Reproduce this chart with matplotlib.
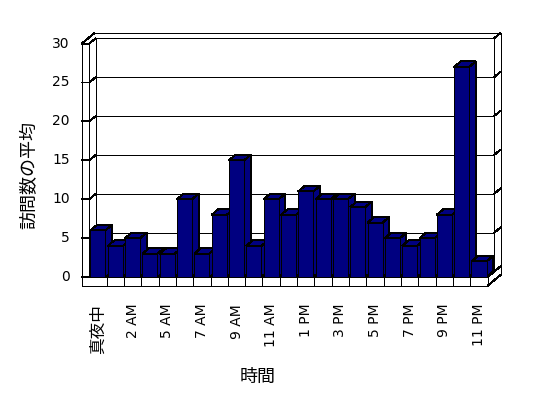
import matplotlib
matplotlib.use("Agg")
import matplotlib.pyplot as plt
from matplotlib.patches import Polygon

plt.rcParams['font.family'] = ['DejaVu Sans', 'Noto Sans CJK JP']
plt.rcParams['lines.antialiased'] = False
plt.rcParams['patch.antialiased'] = False

# data: average visits per hour (hour 4 is missing in the source)
hours = ['真夜中', '1 AM', '2 AM', '3 AM', '5 AM', '6 AM', '7 AM', '8 AM',
         '9 AM', '10 AM', '11 AM', '12 PM', '1 PM', '2 PM', '3 PM', '4 PM',
         '5 PM', '6 PM', '7 PM', '8 PM', '9 PM', '10 PM', '11 PM']
visits = [6, 4, 5, 3, 3, 10, 3, 8, 15, 4, 10, 8, 11, 10, 10, 9, 7, 5, 4, 5,
          8, 27, 2]
y_ticks = [0, 5, 10, 15, 20, 25, 30]

NAVY = '#000080'
LW = 0.72   # one pixel

# layout of the fake 3d box (category / value units)
n = len(hours)
hx, hy = 0.378, 0.70     # half depth (bars, back wall inner face)
fx, fy = 0.756, 1.39     # full depth (outer edges)
wall = 0.44              # left wall thickness
floor = 1.12             # floor thickness
bw = 0.87
top = y_ticks[-1]
left = -0.5
right = n - 0.5

fig = plt.figure(figsize=(5.48, 3.98), dpi=100)
ax = fig.add_axes([0, 0, 1, 1])
ax.set_xlim(-5.656, 25.984)
ax.set_ylim(-15.553, 35.604)
ax.axis('off')

lk = dict(color='black', lw=LW, solid_capstyle='butt', zorder=1)

# back wall: inner face + gridlines
ax.plot([left + hx, right + hx, right + hx, left + hx, left + hx],
        [hy, hy, top + hy, top + hy, hy], **lk)
for v in y_ticks[1:-1]:
    ax.plot([left + hx, right + hx], [v + hy, v + hy], **lk)
# gridline wraps onto left wall front strip and right wall edge
for v in y_ticks:
    ax.plot([left - wall, left, left + hx], [v, v, v + hy], **lk)
    ax.plot([right + hx, right + fx], [v + hy, v + fy], **lk)

# left wall edges
ax.plot([left - wall, left - wall], [-floor, top], **lk)
ax.plot([left, left], [0, top], **lk)
ax.plot([left - wall, left - wall + fx], [top, top + fy], **lk)
# back wall outer edges
ax.plot([left - wall + fx, right + fx, right + fx],
        [top + fy, top + fy, -floor + fy], **lk)

# floor
ax.plot([left - wall, right, right], [-floor, -floor, 0], **lk)
ax.plot([left, right], [0, 0], **lk)
for k in range(n - 1):
    ax.plot([k + 0.5, k + 0.5], [-floor, 0], **lk)
ax.plot([right, right + hx], [0, hy], **lk)
ax.plot([right, right + fx], [-floor, -floor + fy], **lk)

# bars, left to right so each one covers the previous side face
for i, v in enumerate(visits):
    x0, x1 = i - bw / 2, i + bw / 2
    side = Polygon([(x1, 0), (x1 + hx, hy), (x1 + hx, v + hy), (x1, v)],
                   facecolor=NAVY, edgecolor='black', lw=LW, zorder=3)
    lid = Polygon([(x0, v), (x1, v), (x1 + hx, v + hy), (x0 + hx, v + hy)],
                  facecolor=NAVY, edgecolor='black', lw=LW, zorder=3)
    ax.add_patch(side)
    ax.add_patch(lid)
    ax.bar(i, v, width=bw, color=NAVY, edgecolor='black', lw=LW, zorder=3)

# y tick labels
for v in y_ticks:
    ax.text(-1.62, v, str(v), ha='right', va='center', fontsize=10)

# x tick labels, every other category
for i in range(0, n, 2):
    size = 10 if hours[i].isascii() else 12
    ax.text(i, -3.45, hours[i], rotation=90, ha='center', va='top',
            fontsize=size)

ax.text(-3.98, 13.1, '訪問数の平均', rotation=90, ha='center', va='center',
        fontsize=13, family=['Noto Sans CJK JP', 'DejaVu Sans'])
ax.text(9.24, -12.85, '時間', ha='center', va='center',
        fontsize=13, family=['Noto Sans CJK JP', 'DejaVu Sans'])

fig.savefig('out.png', dpi=100)
